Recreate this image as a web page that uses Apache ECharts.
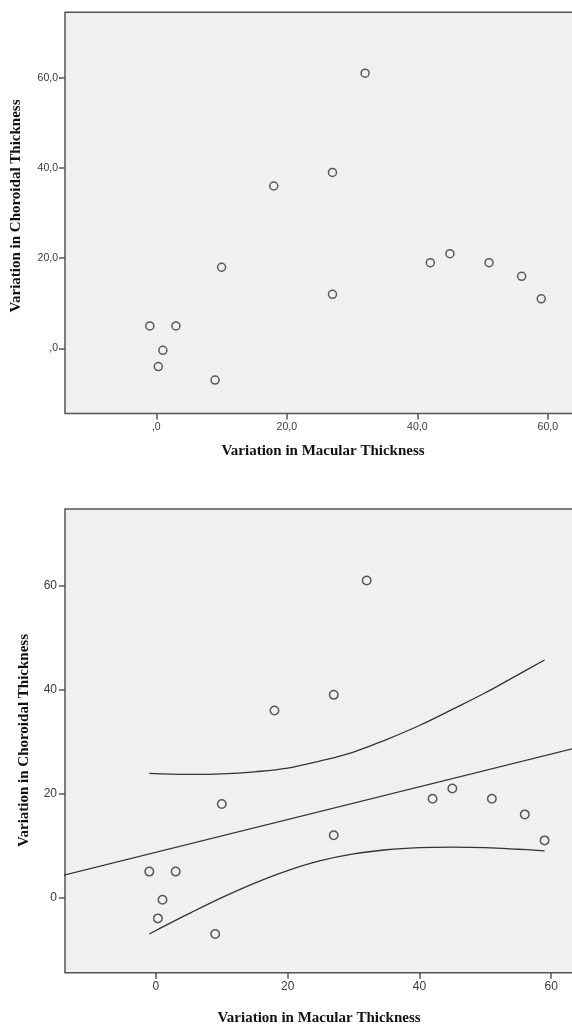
<!DOCTYPE html>
<html>
<head>
<meta charset="utf-8">
<script src="https://cdn.jsdelivr.net/npm/echarts@6/dist/echarts.min.js"></script>
<style>
html,body{margin:0;padding:0;background:#fff;}
#c{width:572px;height:1025px;}
</style>
</head>
<body>
<div id="c"></div>
<script>
// ---- data ----
const macular = [-1, 3, 1, 0.3, 9, 10, 18, 27, 27, 32, 42, 45, 51, 56, 59];
const choroidal = [5, 5, -0.4, -4, -7, 18, 36, 39, 12, 61, 19, 21, 19, 16, 11];

// fit line end points (bottom chart)
const fitX = [-14, 66];
const fitY = [4.3, 29.5];

// confidence band curves (bottom chart)
const ciX = [-1, 5, 10, 15, 20, 25, 30, 35, 40, 45, 50, 55, 59];
const ciUpper = [23.9, 23.7, 23.8, 24.2, 24.9, 26.3, 28.0, 30.4, 33.1, 36.2, 39.4, 42.9, 45.7];
const ciLower = [-7.0, -3.1, 0.0, 2.8, 5.2, 7.1, 8.4, 9.2, 9.6, 9.7, 9.6, 9.3, 9.0];

// tick values and labels
const xTicks = [0, 20, 40, 60];
const yTicks = [0, 20, 40, 60];
const topXLabels = [',0', '20,0', '40,0', '60,0'];
const topYLabels = [',0', '20,0', '40,0', '60,0'];
const botXLabels = ['0', '20', '40', '60'];
const botYLabels = ['0', '20', '40', '60'];

const xTitle = 'Variation in Macular Thickness';
const yTitle = 'Variation in Choroidal Thickness';

// ---- build ----
const pts = macular.map((x, i) => [x, choroidal[i]]);
const fitPts = fitX.map((x, i) => [x, fitY[i]]);
const upPts = ciX.map((x, i) => [x, ciUpper[i]]);
const loPts = ciX.map((x, i) => [x, ciLower[i]]);

const ink = '#333';
const frame = '#555';
const labelFont = '"Liberation Sans", Arial, sans-serif';
const titleFont = '"Liberation Serif", "Times New Roman", serif';

function mkLabel(ticks, labels, size, margin) {
  return {
    show: true,
    customValues: ticks,
    margin: margin,
    color: '#3a3a3a',
    fontFamily: labelFont,
    fontSize: size,
    formatter: v => { const i = ticks.indexOf(v); return i >= 0 ? labels[i] : ''; }
  };
}
function mkTick(ticks) {
  return { show: true, customValues: ticks, length: 6, lineStyle: { color: frame, width: 1.5 } };
}
const noLine = { show: false, onZero: false };

const chart = echarts.init(document.getElementById('c'), null, { renderer: 'canvas' });
chart.setOption({
  animation: false,
  backgroundColor: '#ffffff',
  grid: [
    { left: 65, top: 12.2, width: 518, height: 401.3, show: true, backgroundColor: '#f0f0f0', borderColor: frame, borderWidth: 1.5, containLabel: false, outerBoundsMode: 'none' },
    { left: 65, top: 509, width: 525, height: 463.7, show: true, backgroundColor: '#f0f0f0', borderColor: frame, borderWidth: 1.5, containLabel: false, outerBoundsMode: 'none' }
  ],
  xAxis: [
    { type: 'value', gridIndex: 0, min: -14, max: 65.4, axisLine: noLine, splitLine: { show: false },
      axisTick: mkTick(xTicks), axisLabel: mkLabel(xTicks, topXLabels, 10.5, 8) },
    { type: 'value', gridIndex: 1, min: -13.8, max: 65.9, axisLine: noLine, splitLine: { show: false },
      axisTick: mkTick(xTicks), axisLabel: mkLabel(xTicks, botXLabels, 12, 8) }
  ],
  yAxis: [
    { type: 'value', gridIndex: 0, min: -14.4, max: 74.5, axisLine: noLine, splitLine: { show: false },
      axisTick: mkTick(yTicks), axisLabel: mkLabel(yTicks, topYLabels, 10.5, 7) },
    { type: 'value', gridIndex: 1, min: -14.45, max: 74.75, axisLine: noLine, splitLine: { show: false },
      axisTick: mkTick(yTicks), axisLabel: mkLabel(yTicks, botYLabels, 12, 8) }
  ],
  series: [
    { type: 'scatter', xAxisIndex: 0, yAxisIndex: 0, data: pts, symbol: 'circle', symbolSize: 8,
      itemStyle: { color: '#f0f0f0', borderColor: ink, borderWidth: 1.5 } },
    { type: 'line', xAxisIndex: 1, yAxisIndex: 1, data: fitPts, showSymbol: false, symbol: 'none',
      lineStyle: { color: ink, width: 1.3 }, clip: true },
    { type: 'line', xAxisIndex: 1, yAxisIndex: 1, data: upPts, showSymbol: false, symbol: 'none', smooth: 0.4,
      lineStyle: { color: ink, width: 1.3 }, clip: true },
    { type: 'line', xAxisIndex: 1, yAxisIndex: 1, data: loPts, showSymbol: false, symbol: 'none', smooth: 0.4,
      lineStyle: { color: ink, width: 1.3 }, clip: true },
    { type: 'scatter', xAxisIndex: 1, yAxisIndex: 1, data: pts, symbol: 'circle', symbolSize: 8.5, z: 5,
      itemStyle: { color: '#f0f0f0', borderColor: ink, borderWidth: 1.5 } }
  ],
  graphic: [
    { type: 'text', x: 323, y: 451.5, style: { text: xTitle, fill: '#111', font: 'bold 15px ' + titleFont, textAlign: 'center', textVerticalAlign: 'middle' } },
    { type: 'text', x: 16, y: 206, rotation: Math.PI / 2, style: { text: yTitle, fill: '#111', font: 'bold 15px ' + titleFont, textAlign: 'center', textVerticalAlign: 'middle' } },
    { type: 'text', x: 319, y: 1018, style: { text: xTitle, fill: '#111', font: 'bold 15px ' + titleFont, textAlign: 'center', textVerticalAlign: 'middle' } },
    { type: 'text', x: 24.5, y: 740.5, rotation: Math.PI / 2, style: { text: yTitle, fill: '#111', font: 'bold 15px ' + titleFont, textAlign: 'center', textVerticalAlign: 'middle' } }
  ]
});
</script>
</body>
</html>
